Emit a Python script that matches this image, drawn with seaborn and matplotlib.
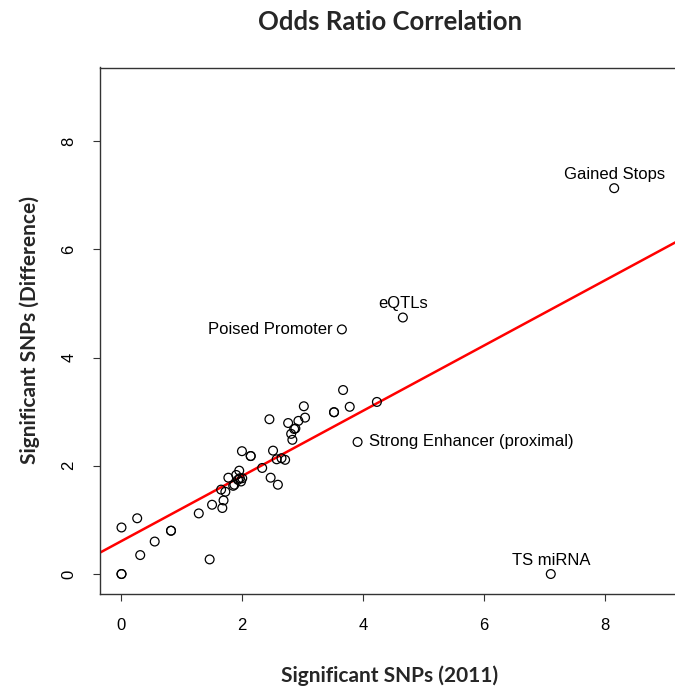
import numpy as np
import pandas as pd
import matplotlib
matplotlib.use("Agg")
import matplotlib.pyplot as plt
import seaborn as sns

# ---- data ----
snps_2011 = [0.0, 0.0, 0.0, 0.26, 0.31, 0.55, 0.82, 0.82, 1.28, 1.46, 1.50, 1.67,
             1.69, 1.65, 1.72, 1.77, 1.85, 1.87, 1.90, 1.93, 1.95, 1.96, 1.98, 2.00,
             1.995, 2.14, 2.14, 2.33, 2.45, 2.47, 2.51, 2.57, 2.59, 2.65, 2.71, 2.76,
             2.81, 2.83, 2.86, 2.88, 2.93, 3.02, 3.04, 3.52, 3.52, 3.67, 3.78, 4.23,
             3.91, 3.65, 4.66, 8.16, 7.11]
snps_diff = [0.0, 0.0, 0.86, 1.03, 0.35, 0.60, 0.80, 0.80, 1.12, 0.27, 1.28, 1.22,
             1.36, 1.56, 1.52, 1.78, 1.63, 1.65, 1.83, 1.74, 1.91, 1.77, 1.71, 1.77,
             2.27, 2.18, 2.18, 1.96, 2.86, 1.78, 2.28, 2.12, 1.65, 2.14, 2.11, 2.79,
             2.59, 2.48, 2.68, 2.69, 2.83, 3.10, 2.89, 2.99, 2.99, 3.40, 3.09, 3.18,
             2.44, 4.52, 4.74, 7.13, 0.0]
label_names = ["Gained Stops", "eQTLs", "Poised Promoter",
               "Strong Enhancer (proximal)", "TS miRNA"]
label_x = [8.16, 4.66, 3.65, 3.91, 7.11]
label_y = [7.13, 4.74, 4.52, 2.44, 0.0]
label_pos = ["above", "above", "left", "right", "above"]
x_ticks = [0, 2, 4, 6, 8]
y_ticks = [0, 2, 4, 6, 8]

df = pd.DataFrame({"x": snps_2011, "y": snps_diff})

sns.set_style("ticks")
plt.rcParams["font.family"] = ["Liberation Sans", "DejaVu Sans"]

W, H = 675, 686
fig = plt.figure(figsize=(W / 100, H / 100), dpi=100)
L, R, T, B = 100, 680, 67.5, 593.5
ax = fig.add_axes([L / W, 1 - B / H, (R - L) / W, (B - T) / H])

sns.scatterplot(data=df, x="x", y="y", ax=ax, marker="o", s=40,
                facecolors="none", edgecolor="black", linewidth=0.9, zorder=3)

# regression line fitted to the data
slope, intercept = np.polyfit(df["x"], df["y"], 1)
ax.axline((0, intercept), slope=slope, color="#ff0000", linewidth=1.8, zorder=2)

for name, lx, ly, pos in zip(label_names, label_x, label_y, label_pos):
    if pos == "above":
        off, ha, va = (0, 10), "center", "center"
    elif pos == "left":
        off, ha, va = (-7, 0), "right", "center"
    else:
        off, ha, va = (8, 0), "left", "center"
    ax.annotate(name, (lx, ly), xytext=off, textcoords="offset points",
                ha=ha, va=va, fontsize=12, color="black")

ax.set_xlim(-0.356, 9.25)
ax.set_ylim(-0.36, 9.36)
ax.set_xticks(x_ticks)
ax.set_yticks(y_ticks)
ax.tick_params(axis="both", direction="out", length=5, width=0.8, labelsize=12,
               color="#333333", labelcolor="black")
ax.tick_params(axis="x", pad=13)
ax.tick_params(axis="y", pad=12)
for lab in ax.get_yticklabels():
    lab.set_rotation(90)
    lab.set_va("center")
for sp in ax.spines.values():
    sp.set_visible(True)
    sp.set_linewidth(1.0)
    sp.set_color("#333333")

ax.set_xlabel("Significant SNPs (2011)", fontsize=15, fontweight="bold",
              family=["Lato", "DejaVu Sans"])
ax.set_ylabel("Significant SNPs (Difference)", fontsize=15, fontweight="bold",
              family=["Lato", "DejaVu Sans"])
ax.xaxis.set_label_coords(0.5, (B - 676) / (B - T))
ax.yaxis.set_label_coords((30 - L) / (R - L), 0.5)
ax.xaxis.label.set_va("center")
ax.yaxis.label.set_va("center")
ax.set_title("Odds Ratio Correlation", fontsize=18.5, fontweight="bold",
             family=["Lato", "DejaVu Sans"], y=(B - 22) / (B - T), va="center",
             pad=0)

fig.savefig("out.png", dpi=100)
